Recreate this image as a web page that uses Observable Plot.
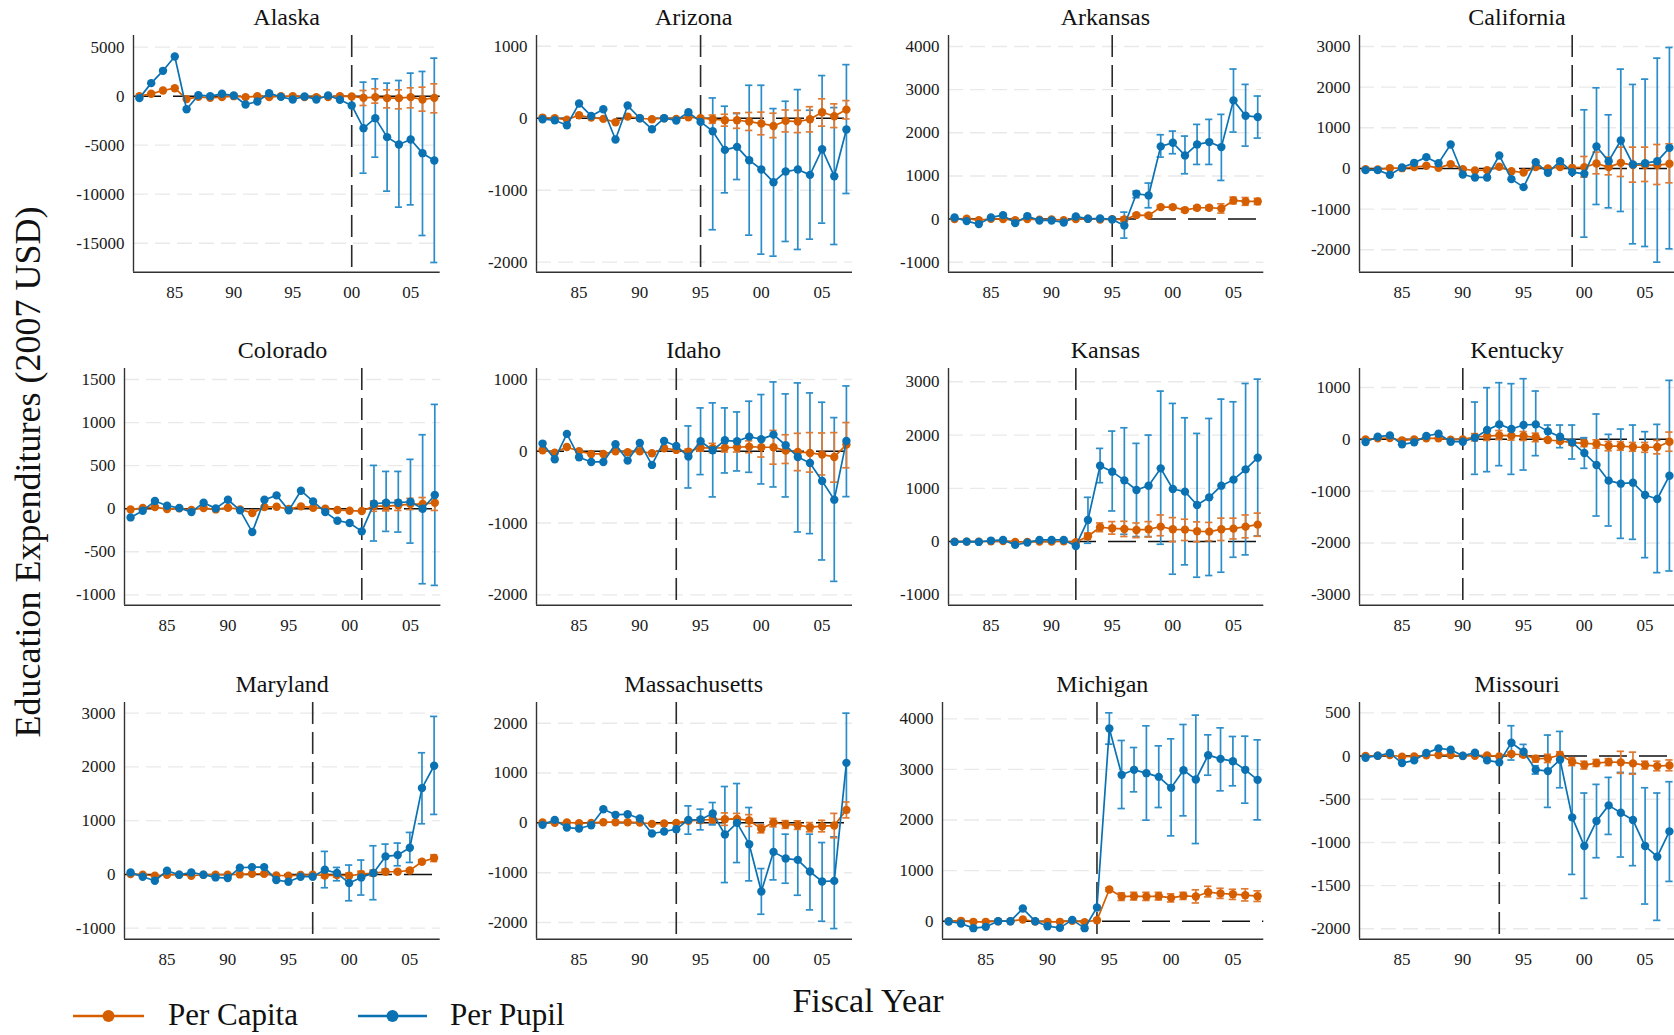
<!DOCTYPE html>
<html><head><meta charset="utf-8">
<script src="https://cdn.jsdelivr.net/npm/d3@7"></script>
<script src="https://cdn.jsdelivr.net/npm/@observablehq/plot@0.6"></script>
<style>
html,body{margin:0;padding:0;background:#fff;overflow:hidden;}
#root{position:relative;width:1674px;height:1035px;overflow:hidden;font-family:"Liberation Serif","Times New Roman",serif;color:#111;}
.panel{position:absolute;}
.ptitle{position:absolute;font-size:24px;line-height:1;transform:translateX(-50%);white-space:nowrap;}
.ytitle{position:absolute;font-size:36px;line-height:1;white-space:nowrap;transform:translate(-50%,-50%) rotate(-90deg);}
.xtitle{position:absolute;font-size:34px;line-height:1;white-space:nowrap;transform:translateX(-50%);}
.leg{position:absolute;font-size:31px;line-height:1;white-space:nowrap;}
</style></head><body><div id="root"></div>
<script>
// ---------------- DATA ----------------
const years = [1982,1983,1984,1985,1986,1987,1988,1989,1990,1991,1992,1993,1994,1995,1996,1997,1998,1999,2000,2001,2002,2003,2004,2005,2006,2007];
const stateNames = ["Alaska","Arizona","Arkansas","California","Colorado","Idaho","Kansas","Kentucky","Maryland","Massachusetts","Michigan","Missouri"];
const treatYears = [2000,1995,1995,1999,2001,1993,1992,1990,1997,1993,1994,1993];
const seriesNames = ["Per Capita","Per Pupil"];
const xTickYears = [1985,1990,1995,2000,2005];
const yTicks = [
  [-15000,-10000,-5000,0,5000],
  [-2000,-1000,0,1000],
  [-1000,0,1000,2000,3000,4000],
  [-2000,-1000,0,1000,2000,3000],
  [-1000,-500,0,500,1000,1500],
  [-2000,-1000,0,1000],
  [-1000,0,1000,2000,3000],
  [-3000,-2000,-1000,0,1000],
  [-1000,0,1000,2000,3000],
  [-2000,-1000,0,1000,2000],
  [0,1000,2000,3000,4000],
  [-2000,-1500,-1000,-500,0,500]
];
const yDomains = [
  [-17960,6190],[-2140,1150],[-1230,4255],[-2550,3270],
  [-1120,1628],[-2144,1153],[-1194,3250],[-3200,1367],
  [-1205,3198],[-2334,2415],[-356,4323],[-2120,620]
];

// Alaska
const akCapita = [0,240,580,815,-300,-70,-170,-100,0,-100,0,-100,0,0,-100,-100,-100,0,-30,-170,-100,-200,-200,-100,-340,-170];
const akCapitaCI = [[-950,580],[-710,750],[-1190,650],[-1290,650],[-1190,850],[-1530,920],[-1700,1260]];
const akPupil = [-200,1330,2585,4050,-1330,100,0,240,70,-850,-540,300,-70,-340,-30,-340,70,-370,-950,-3265,-2245,-4180,-4930,-4420,-5815,-6565];
const akPupilCI = [[-7860,1430],[-6225,1770],[-9690,1330],[-11325,1600],[-11090,2350],[-14215,2520],[-16970,3880]];
// Arizona
const azCapita = [9,0,-19,42,9,-9,-56,23,0,-14,0,-9,14,0,-14,-28,-28,-46,-74,-107,-37,-46,-14,83,28,120];
const azCapitaCI = [[-70,45],[-110,55],[-140,75],[-170,80],[-230,85],[-270,70],[-190,115],[-200,110],[-190,160],[-110,270],[-130,200],[-10,245]];
const azPupil = [-14,-28,-97,204,32,125,-296,176,0,-153,0,-32,83,-51,-180,-440,-398,-583,-713,-889,-741,-713,-787,-431,-806,-157];
const azPupilCI = [[-1550,282],[-1037,167],[-852,65],[-1625,458],[-1889,458],[-1917,134],[-1713,236],[-1824,398],[-1681,111],[-1458,593],[-1755,148],[-1046,745]];
// Arkansas
const arCapita = [0,8,-23,8,0,-23,0,-15,-8,-23,0,8,-8,0,-8,93,85,278,278,209,263,263,247,433,410,410];
const arCapitaCI = [[-60,45],[60,125],[45,125],[240,315],[240,315],[160,255],[215,310],[215,310],[140,355],[355,510],[320,500],[340,480]];
const arPupil = [39,-46,-116,39,93,-93,70,-31,-31,-77,62,8,15,-8,-147,587,549,1685,1770,1476,1731,1785,1669,2751,2396,2365];
const arPupilCI = [[-440,162],[495,650],[263,835],[1437,1955],[1515,2040],[1051,1924],[1267,2195],[1267,2311],[896,2427],[2017,3478],[1692,3122],[1878,2852]];
// California
const caCapita = [-16,-25,8,8,33,66,16,107,-16,-49,-41,41,-66,-98,33,0,33,16,33,123,33,139,82,82,82,115];
const caCapitaCI = [[-213,295],[-131,402],[-156,279],[-197,525],[-336,525],[-320,525],[-393,590],[-352,607]];
const caPupil = [-41,-41,-156,25,139,279,131,590,-148,-221,-221,320,-262,-459,156,-107,180,-90,-131,541,180,689,98,131,180,508];
const caPupilCI = [[-1689,1443],[-885,1984],[-967,1320],[-1057,2443],[-1852,2066],[-1918,2197],[-2303,2713],[-1975,2975]];
// Colorado
const coCapita = [-8,8,19,-4,4,-15,8,-8,12,-8,-50,19,23,-4,27,12,0,-15,-23,-27,31,31,39,54,54,70];
const coCapitaCI = [[-30,90],[-25,90],[-20,100],[-10,120],[-20,130],[-20,160]];
const coPupil = [-101,-23,89,35,8,-39,70,4,104,-19,-271,104,155,-19,209,85,-39,-139,-166,-263,58,70,70,81,0,159];
const coPupilCI = [[-375,503],[-263,433],[-271,433],[-399,573],[-871,859],[-890,1211]];
// Idaho
const idCapita = [14,-19,60,0,-37,-37,0,-14,0,-28,42,19,-5,51,42,51,56,65,56,56,9,-9,-23,-46,-79,93];
const idCapitaCI = [[-40,30],[0,100],[-20,110],[-10,115],[-10,120],[-20,145],[-80,190],[-180,290],[-170,230],[-270,250],[-290,260],[-330,255],[-430,260],[-230,400]];
const idPupil = [107,-111,242,-84,-149,-149,98,-130,116,-190,144,74,-74,139,14,153,139,204,167,232,84,-79,-163,-413,-674,144];
const idPupilCI = [[-511,353],[-325,604],[-636,674],[-302,604],[-274,548],[-293,697],[-455,790],[-497,966],[-636,799],[-1124,952],[-1147,813],[-1514,683],[-1812,469],[-632,910]];
// Kansas
const ksCapita = [0,0,0,6,12,-6,-6,0,0,6,-12,100,269,250,237,219,231,281,231,225,194,187,231,244,281,319];
const ksCapitaCI = [[40,160],[187,350],[140,375],[95,381],[75,350],[85,375],[110,500],[0,450],[20,420],[-5,370],[15,360],[20,440],[50,440],[70,500],[100,535]];
const ksPupil = [-6,0,-6,19,31,-62,-19,31,31,31,-81,406,1425,1313,1150,969,1050,1375,988,938,688,831,1050,1163,1356,1575];
const ksPupilCI = [[-31,831],[1106,1750],[575,2075],[137,2137],[94,1844],[94,2000],[-50,2825],[-612,2594],[-437,2325],[-669,2031],[-637,2312],[-575,2675],[-294,2625],[-250,2969],[106,3050]];
// Kentucky
const kyCapita = [0,19,26,-19,0,19,19,-6,0,45,64,77,71,64,39,-13,-32,-64,-77,-90,-129,-129,-148,-154,-148,-45];
const kyCapitaCI = [[-30,110],[-20,150],[-5,170],[-15,160],[-20,150],[-45,120],[-40,15],[-70,5],[-110,-20],[-140,-15],[-170,-10],[-220,-40],[-210,-45],[-230,-60],[-250,-60],[-280,-20],[-230,140]];
const kyPupil = [-51,51,77,-96,-58,64,109,-45,-45,32,180,289,199,276,289,154,51,-58,-264,-495,-797,-855,-836,-1074,-1151,-701];
const kyPupilCI = [[-675,720],[-624,997],[-508,1093],[-675,1074],[-592,1170],[-315,932],[19,276],[-161,276],[-379,276],[-559,32],[-1479,489],[-1672,96],[-1910,199],[-1929,276],[-2283,148],[-2572,289],[-2540,1138]];
// Maryland
const mdCapita = [6,-6,-25,-6,-6,-25,-6,-6,-6,0,12,12,-19,-25,-12,-6,-19,-12,-25,6,25,50,50,74,236,304];
const mdCapitaCI = [[-60,25],[-50,25],[-75,25],[-45,60],[-30,80],[20,80],[20,80],[45,105],[195,275],[240,365]];
const mdPupil = [37,-43,-118,68,-6,37,-6,-56,-68,124,136,136,-105,-136,-43,-43,87,25,-161,-56,25,335,360,496,1606,2021];
const mdPupilCI = [[-248,428],[-118,130],[-490,174],[-384,267],[-471,533],[99,564],[161,583],[223,781],[942,2263],[1116,2939]];
// Massachusetts
const maCapita = [7,0,7,-7,0,13,13,13,7,-20,-13,0,40,54,67,74,80,47,-120,7,-33,-47,-87,-67,-54,261];
const maCapitaCI = [[10,70],[10,100],[15,120],[-50,200],[-30,190],[-70,165],[-200,-40],[-80,90],[-110,45],[-130,40],[-180,5],[-180,50],[-300,190],[100,420]];
const maPupil = [-40,60,-94,-114,-47,274,161,174,87,-214,-174,-127,60,67,187,-234,0,-428,-1378,-582,-716,-743,-977,-1177,-1164,1204];
const maPupilCI = [[-227,341],[-140,274],[-40,408],[-1198,729],[-796,789],[-1164,308],[-1833,-917],[-1144,20],[-1211,-227],[-1452,-27],[-1746,-227],[-1974,-395],[-2121,-281],[207,2201]];
// Michigan
const miCapita = [0,7,-13,-13,0,0,33,-7,-13,-13,7,-20,20,626,488,494,488,494,461,501,488,573,547,534,514,494];
const miCapitaCI = [[590,660],[410,560],[420,570],[410,570],[420,570],[380,540],[430,570],[360,620],[480,690],[450,650],[430,630],[400,640],[390,600]];
const miPupil = [-7,-46,-138,-112,0,0,250,0,-99,-132,26,-138,270,3809,2893,2992,2926,2853,2636,2985,2801,3282,3209,3163,2992,2794];
const miPupilCI = [[3499,4119],[2227,3572],[2557,3433],[1997,3862],[2247,3466],[1687,3605],[2082,3888],[1535,4073],[2886,3684],[2577,3822],[2676,3651],[2333,3657],[2003,3585]];
// Missouri
const moCapita = [0,4,12,-8,-4,8,12,12,0,4,8,-4,23,15,-31,-27,12,-66,-104,-81,-69,-73,-85,-104,-116,-108];
const moCapitaCI = [[0,45],[-10,40],[-70,5],[-75,20],[-30,50],[-110,-20],[-150,-60],[-120,-40],[-110,-30],[-200,55],[-210,45],[-150,-60],[-170,-60],[-170,-45]];
const moPupil = [-19,4,35,-81,-50,35,89,73,4,39,-50,-73,154,50,-158,-174,-42,-710,-1042,-752,-571,-656,-741,-1042,-1165,-872];
const moPupilCI = [[-46,351],[12,135],[-208,-112],[-594,243],[-367,285],[-1370,-73],[-1647,-428],[-1177,-328],[-907,-247],[-1169,-189],[-1269,-201],[-1713,-367],[-1902,-428],[-1451,-297]];

const capita = [akCapita,azCapita,arCapita,caCapita,coCapita,idCapita,ksCapita,kyCapita,mdCapita,maCapita,miCapita,moCapita];
const capitaCI = [akCapitaCI,azCapitaCI,arCapitaCI,caCapitaCI,coCapitaCI,idCapitaCI,ksCapitaCI,kyCapitaCI,mdCapitaCI,maCapitaCI,miCapitaCI,moCapitaCI];
const pupil = [akPupil,azPupil,arPupil,caPupil,coPupil,idPupil,ksPupil,kyPupil,mdPupil,maPupil,miPupil,moPupil];
const pupilCI = [akPupilCI,azPupilCI,arPupilCI,caPupilCI,coPupilCI,idPupilCI,ksPupilCI,kyPupilCI,mdPupilCI,maPupilCI,miPupilCI,moPupilCI];

// ---------------- LAYOUT / STYLE ----------------
const ORANGE = "#d55e00", ORANGE_CI = "#e07a33";
const BLUE = "#0a72b3", BLUE_CI = "#2b8dc9";
const FONT = "'Liberation Serif','Times New Roman',serif";
const rowTop = [35, 368.3, 701.7];
const plotH = 236.7;
const plotLeft  = [133.3,535.7,947.7,1359, 124.3,535.7,947.7,1359, 124.3,535.7,941.7,1359];
const plotRight = [440,851.7,1263,1675, 440.7,851.7,1263,1675, 440,851.7,1263,1675];
const xDomain = [1981.5, 2007.5];
const capHalf = 0.3;

const root = document.getElementById("root");

function errMarks(ci, color) {
  return [
    Plot.ruleX(ci, {x: "year", y1: "lo", y2: "hi", stroke: color, strokeWidth: 1.7}),
    Plot.ruleY(ci, {y: "hi", x1: d => d.year - capHalf, x2: d => d.year + capHalf, stroke: color, strokeWidth: 1.7}),
    Plot.ruleY(ci, {y: "lo", x1: d => d.year - capHalf, x2: d => d.year + capHalf, stroke: color, strokeWidth: 1.7})
  ];
}

stateNames.forEach((name, i) => {
  const T = treatYears[i];
  const pcRows = years.map((y, k) => ({year: y, v: capita[i][k], series: seriesNames[0]}));
  const ppRows = years.map((y, k) => ({year: y, v: pupil[i][k], series: seriesNames[1]}));
  const pcCI = capitaCI[i].map((c, k) => ({year: T + 1 + k, lo: c[0], hi: c[1]}));
  const ppCI = pupilCI[i].map((c, k) => ({year: T + 1 + k, lo: c[0], hi: c[1]}));
  const mL = 72, mR = 14, mT = 12, mB = 42;
  const w = plotRight[i] - plotLeft[i];
  const row = Math.floor(i / 4);
  const chart = Plot.plot({
    width: w + mL + mR, height: plotH + mT + mB,
    marginLeft: mL, marginRight: mR, marginTop: mT, marginBottom: mB,
    style: {fontFamily: FONT, fontSize: "17px", color: "#1a1a1a", background: "transparent", overflow: "visible"},
    x: {domain: xDomain, ticks: xTickYears, tickSize: 0, tickPadding: 14, label: null,
        tickFormat: d => String(d % 100).padStart(2, "0")},
    y: {domain: yDomains[i], ticks: yTicks[i], tickSize: 0, tickPadding: 9, label: null,
        tickFormat: d => String(d)},
    marks: [
      Plot.ruleY(yTicks[i].filter(t => t !== 0), {stroke: "#e9e9e9", strokeWidth: 1.4, strokeDasharray: "15,7"}),
      Plot.ruleY([0], {stroke: "#111", strokeWidth: 1.5, strokeDasharray: "28,12"}),
      Plot.ruleX([T], {stroke: "#2a2a2a", strokeWidth: 1.6, strokeDasharray: "22,8"}),
      ...errMarks(ppCI, BLUE_CI),
      ...errMarks(pcCI, ORANGE_CI),
      Plot.line(pcRows, {x: "year", y: "v", stroke: ORANGE, strokeWidth: 1.7}),
      Plot.dot(pcRows, {x: "year", y: "v", fill: ORANGE, r: 4.2}),
      Plot.line(ppRows, {x: "year", y: "v", stroke: BLUE, strokeWidth: 1.7}),
      Plot.dot(ppRows, {x: "year", y: "v", fill: BLUE, r: 4.2}),
      Plot.ruleX([xDomain[0]], {stroke: "#333", strokeWidth: 1.4}),
      Plot.ruleY([yDomains[i][0]], {stroke: "#333", strokeWidth: 1.4})
    ]
  });
  chart.classList.add("panel");
  chart.style.left = (plotLeft[i] - mL) + "px";
  chart.style.top = (rowTop[row] - mT) + "px";
  root.appendChild(chart);

  const t = document.createElement("div");
  t.className = "ptitle";
  t.textContent = name;
  t.style.left = ((plotLeft[i] + plotRight[i]) / 2) + "px";
  t.style.top = (rowTop[row] - 30) + "px";
  root.appendChild(t);
});

// axis titles
const yt = document.createElement("div");
yt.className = "ytitle";
yt.textContent = "Education Expenditures (2007 USD)";
yt.style.left = "28px"; yt.style.top = "472px";
root.appendChild(yt);

const xt = document.createElement("div");
xt.className = "xtitle";
xt.textContent = "Fiscal Year";
xt.style.left = "868px"; xt.style.top = "984px";
root.appendChild(xt);

// legend
const legendItems = [
  {label: seriesNames[0], color: ORANGE, x0: 73, x1: 144, tx: 168},
  {label: seriesNames[1], color: BLUE, x0: 358, x1: 427, tx: 450}
];
legendItems.forEach(it => {
  const ns = "http://www.w3.org/2000/svg";
  const s = document.createElementNS(ns, "svg");
  s.setAttribute("width", it.x1 - it.x0 + 14);
  s.setAttribute("height", 20);
  s.style.position = "absolute";
  s.style.left = (it.x0 - 7) + "px";
  s.style.top = "1006px";
  const ln = document.createElementNS(ns, "line");
  ln.setAttribute("x1", 7); ln.setAttribute("x2", it.x1 - it.x0 + 7);
  ln.setAttribute("y1", 10); ln.setAttribute("y2", 10);
  ln.setAttribute("stroke", it.color); ln.setAttribute("stroke-width", 2.6);
  s.appendChild(ln);
  const c = document.createElementNS(ns, "circle");
  c.setAttribute("cx", (it.x1 - it.x0) / 2 + 7); c.setAttribute("cy", 10); c.setAttribute("r", 6);
  c.setAttribute("fill", it.color);
  s.appendChild(c);
  root.appendChild(s);
  const d = document.createElement("div");
  d.className = "leg";
  d.textContent = it.label;
  d.style.left = it.tx + "px"; d.style.top = "999px";
  root.appendChild(d);
});
</script></body></html>
